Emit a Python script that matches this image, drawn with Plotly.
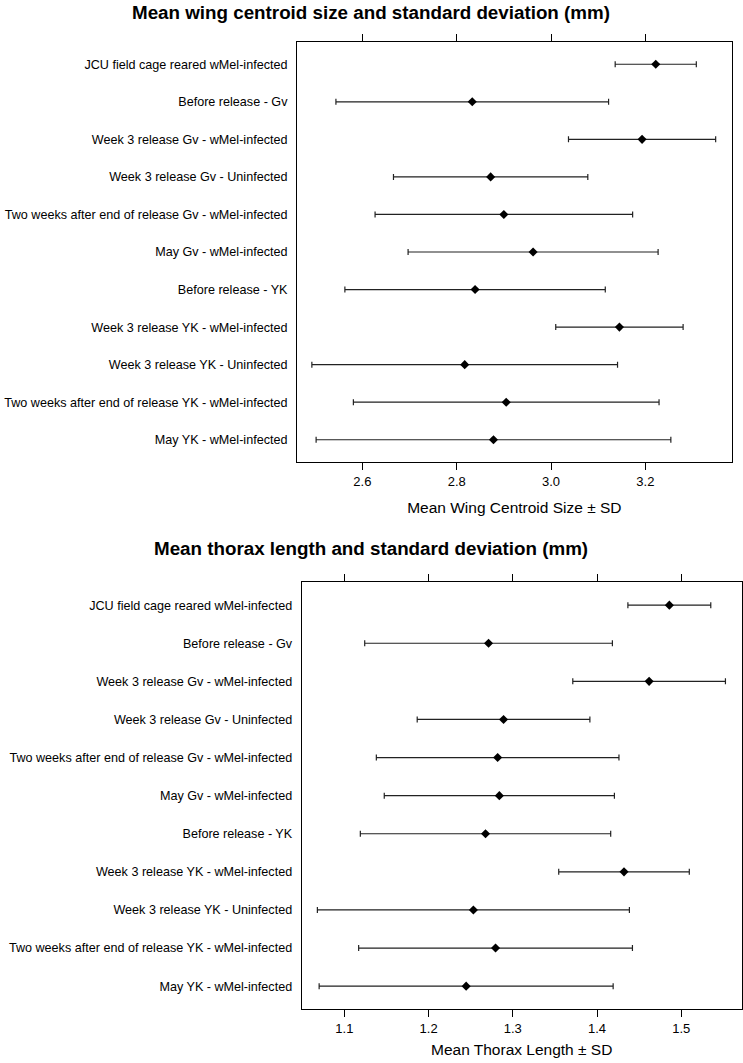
import plotly.graph_objects as go

categories = [
    "JCU field cage reared wMel-infected",
    "Before release - Gv",
    "Week 3 release Gv - wMel-infected",
    "Week 3 release Gv - Uninfected",
    "Two weeks after end of release Gv - wMel-infected",
    "May Gv - wMel-infected",
    "Before release - YK",
    "Week 3 release YK - wMel-infected",
    "Week 3 release YK - Uninfected",
    "Two weeks after end of release YK - wMel-infected",
    "May YK - wMel-infected",
]

wing_mean = [3.222, 2.833, 3.193, 2.872, 2.900, 2.962, 2.839, 3.145, 2.817, 2.905, 2.878]
wing_sd = [0.086, 0.289, 0.156, 0.206, 0.273, 0.265, 0.276, 0.135, 0.324, 0.324, 0.376]

thorax_mean = [1.4858, 1.2712, 1.4618, 1.2890, 1.2820, 1.2840, 1.2676, 1.4320, 1.2532, 1.2795, 1.2446]
thorax_sd = [0.0492, 0.1470, 0.0906, 0.1025, 0.1440, 0.1366, 0.1486, 0.0775, 0.1852, 0.1625, 0.1745]

wing_ticks = [2.6, 2.8, 3.0, 3.2]
thorax_ticks = [1.1, 1.2, 1.3, 1.4, 1.5]

W, H = 743, 1063
FONT = "Liberation Sans, Arial, sans-serif"
positions = list(range(1, len(categories) + 1))

fig = go.Figure()

fig.add_trace(go.Scatter(
    x=wing_mean, y=positions, mode="markers",
    marker=dict(symbol="diamond", size=7, color="black"),
    error_x=dict(type="data", array=wing_sd, color="#222222", thickness=1.2, width=3),
    xaxis="x", yaxis="y", showlegend=False,
))
fig.add_trace(go.Scatter(
    x=thorax_mean, y=positions, mode="markers",
    marker=dict(symbol="diamond", size=7, color="black"),
    error_x=dict(type="data", array=thorax_sd, color="#222222", thickness=1.2, width=3),
    xaxis="x2", yaxis="y2", showlegend=False,
))

def px_x(a, b):
    return [a / W, min(1.0, b / W)]

def px_y(top, bottom):
    return [1 - bottom / H, 1 - top / H]

def py(y):
    return 1 - y / H

common_x = dict(showline=True, linecolor="black", linewidth=1, mirror="ticks",
                ticks="outside", ticklen=7, tickcolor="black", tickwidth=1,
                showgrid=False, zeroline=False, automargin=False,
                tickfont=dict(family=FONT, size=13, color="black"),
                title_font=dict(family=FONT, size=15.5, color="black"))
common_y = dict(showline=True, linecolor="black", linewidth=1, mirror=True,
                ticks="", showgrid=False, zeroline=False, automargin=False,
                tickvals=positions, ticktext=categories, range=[11.6, 0.4],
                ticklabelstandoff=6,
                tickfont=dict(family=FONT, size=12.6, color="black"))

fig.update_layout(
    width=W, height=H,
    margin=dict(l=0, r=0, t=0, b=0),
    paper_bgcolor="white", plot_bgcolor="white",
    xaxis=dict(common_x, domain=px_x(297, 731.7), anchor="y", range=[2.4615, 3.383],
               tickvals=wing_ticks, ticktext=["2.6", "2.8", "3.0", "3.2"],
               title=dict(text="Mean Wing Centroid Size ± SD", standoff=14)),
    yaxis=dict(common_y, domain=px_y(41.7, 462.3), anchor="x"),
    xaxis2=dict(common_x, domain=px_x(301.7, 741.7), anchor="y2", range=[1.0494, 1.5717],
                tickvals=thorax_ticks, ticktext=["1.1", "1.2", "1.3", "1.4", "1.5"],
                title=dict(text="Mean Thorax Length ± SD", standoff=9)),
    yaxis2=dict(common_y, domain=px_y(582.3, 1009), anchor="x2"),
    annotations=[
        dict(text="<b>Mean wing centroid size and standard deviation (mm)</b>",
             x=371 / W, y=py(12), xref="paper", yref="paper", showarrow=False,
             xanchor="center", yanchor="middle",
             font=dict(family=FONT, size=18.8, color="black")),
        dict(text="<b>Mean thorax length and standard deviation (mm)</b>",
             x=371 / W, y=py(548), xref="paper", yref="paper", showarrow=False,
             xanchor="center", yanchor="middle",
             font=dict(family=FONT, size=18.8, color="black")),
    ],
)

fig.write_html("out.html",
               config={"displayModeBar": False},
               post_script="document.body.style.margin='0';document.body.style.overflow='hidden';")
